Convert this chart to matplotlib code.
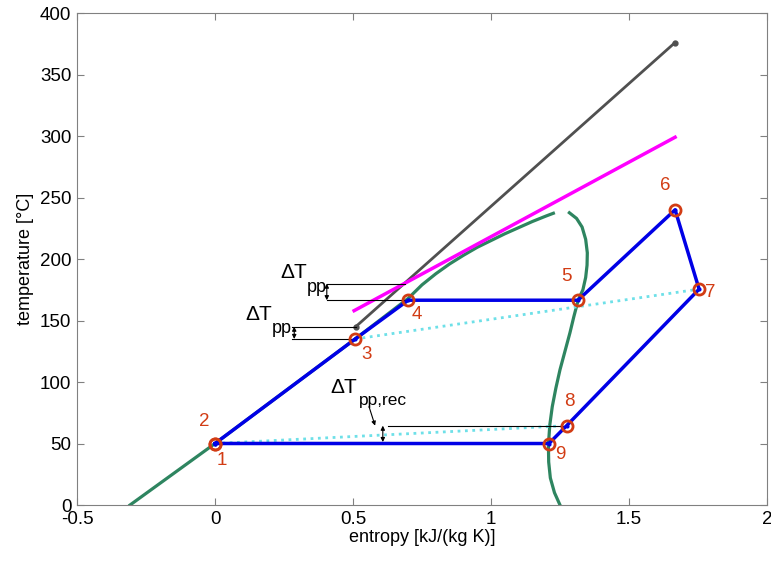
import matplotlib
matplotlib.use("Agg")
import matplotlib.pyplot as plt

plt.rcParams["font.family"] = ["Liberation Sans", "DejaVu Sans"]

# cycle states (entropy kJ/(kg K), temperature degC)
state_ids = ["1", "2", "3", "4", "5", "6", "7", "8", "9"]
s_state = [0.0, 0.0, 0.508, 0.70, 1.315, 1.667, 1.754, 1.274, 1.21]
T_state = [50, 50, 135, 166.5, 166.5, 240, 175.5, 64.5, 50]

# saturation dome
s_dome_liq = [-0.308, 0.0, 0.508, 0.70, 0.75, 0.80, 0.85, 0.90, 0.95, 1.00,
              1.05, 1.10, 1.15, 1.20, 1.226]
T_dome_liq = [0, 50, 135, 168, 179, 188, 196, 203, 209.5, 215,
              220.5, 225.5, 230.5, 235, 237.2]
s_dome_vap = [1.284, 1.31, 1.33, 1.343, 1.349, 1.348, 1.343, 1.333, 1.316,
              1.30, 1.286, 1.268, 1.25, 1.235, 1.222, 1.213, 1.208, 1.209,
              1.215, 1.23, 1.25]
T_dome_vap = [237.6, 233, 226, 216, 205, 195, 185, 175, 166.7,
              153, 140, 125, 110, 95, 80, 65, 49, 35,
              22, 10, 0]

# heat source lines
s_gray = [0.51, 1.667]
T_gray = [145, 376]
s_mag = [0.504, 1.667]
T_mag = [158, 299]

fig = plt.figure(figsize=(7.71, 5.61), dpi=100)
ax = fig.add_axes([0.0999, 0.0998, 0.8949, 0.877])

# dome
ax.plot(s_dome_liq, T_dome_liq, color="#2e8560", lw=2.3)
ax.plot(s_dome_vap, T_dome_vap, color="#2e8560", lw=2.3)

# source lines
ax.plot(s_gray, T_gray, color="#505050", lw=2, marker=".", ms=7)
ax.plot(s_mag, T_mag, color="#ff00ff", lw=2.5)

# recuperator dotted lines
ax.plot([s_state[0], s_state[7]], [T_state[0], T_state[7]], color="#6ee0e8", lw=2, ls=":")
ax.plot([s_state[2], s_state[6]], [T_state[2], T_state[6]], color="#6ee0e8", lw=2, ls=":")

# cycle
order = [0, 2, 3, 4, 5, 6, 7, 8, 0]
ax.plot([s_state[i] for i in order], [T_state[i] for i in order],
        color="#0000e6", lw=2.5, marker=".", ms=4, zorder=4)
ax.plot(s_state, T_state, ls="none", marker="o", ms=8, mfc="none",
        mec="#d23c14", mew=2, zorder=5)

# labels of the states
lab_off = [(0.025, -14), (-0.04, 18), (0.04, -13), (0.03, -12), (-0.04, 19),
           (-0.035, 20), (0.04, -3), (0.01, 20), (0.04, -9)]
for k, name in enumerate(state_ids):
    ax.text(s_state[k] + lab_off[k][0], T_state[k] + lab_off[k][1], name,
            color="#d23c14", fontsize=13.5, ha="center", va="center")

thin = dict(color="black", lw=0.8)
arr = dict(arrowstyle="<|-|>", color="black", lw=0.8, mutation_scale=6,
           shrinkA=0, shrinkB=0)

# upper pinch (source vs evaporation)
ax.plot([0.405, 0.69], [180, 180], **thin)
ax.plot([0.405, 0.70], [166.5, 166.5], **thin)
ax.annotate("", xy=(0.405, 180), xytext=(0.405, 166.5), arrowprops=arr)
ax.text(0.286, 189, "\u0394T", fontsize=15, ha="center", va="center")
ax.text(0.334, 177, "pp", fontsize=13, ha="left", va="center")

# lower pinch
ax.plot([0.278, 0.51], [145, 145], **thin)
ax.plot([0.278, 0.508], [135, 135], **thin)
ax.annotate("", xy=(0.287, 145), xytext=(0.287, 135), arrowprops=arr)
ax.text(0.158, 155, "\u0394T", fontsize=15, ha="center", va="center")
ax.text(0.205, 143.5, "pp", fontsize=13, ha="left", va="center")

# recuperator pinch
ax.plot([0.625, 1.274], [64.5, 64.5], **thin)
ax.plot([0.0, 0.63], [51.2, 51.2], **thin)
ax.annotate("", xy=(0.608, 64.5), xytext=(0.608, 51.2), arrowprops=arr)
ax.annotate("", xy=(0.58, 64.5), xytext=(0.558, 80),
            arrowprops=dict(arrowstyle="-|>", color="black", lw=0.8,
                            mutation_scale=6, shrinkA=0, shrinkB=0))
ax.text(0.465, 95.5, "\u0394T", fontsize=15, ha="center", va="center")
ax.text(0.522, 85, "pp,rec", fontsize=12.5, ha="left", va="center")

ax.set_xlim(-0.5, 2)
ax.set_ylim(0, 400)
ax.set_xticks([-0.5, 0, 0.5, 1, 1.5, 2])
ax.set_xticklabels(["-0.5", "0", "0.5", "1", "1.5", "2"])
ax.set_yticks(range(0, 401, 50))
ax.tick_params(direction="in", top=True, right=True, labelsize=13.5,
               length=5, color="#808080", pad=4)
for sp in ax.spines.values():
    sp.set_color("#808080")
ax.set_xlabel("entropy [kJ/(kg K)]", fontsize=13, labelpad=1)
ax.set_ylabel("temperature [\u00b0C]", fontsize=13, labelpad=4)

fig.savefig("out.png", dpi=100)
